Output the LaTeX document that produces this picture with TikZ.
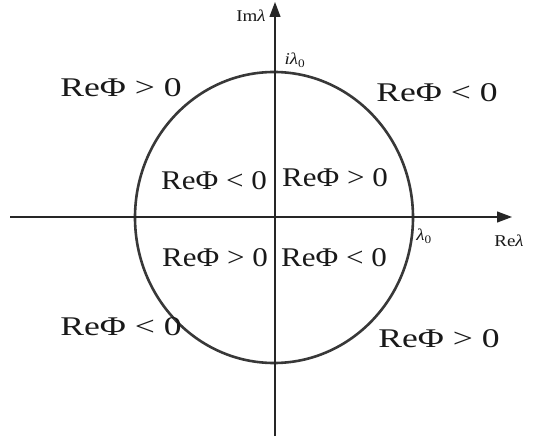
\documentclass[tikz,border=0pt]{standalone}
\usepackage{graphicx}
\usepackage{fontspec}
\setmainfont{Liberation Serif}
\usetikzlibrary{arrows.meta}
\newcommand{\wideA}[1]{\scalebox{1.32}[1]{#1}}
\newcommand{\wideB}[1]{\scalebox{1.15}[1]{#1}}
\newcommand{\wideC}[1]{\scalebox{1.15}[1]{#1}}
\begin{document}
\begin{tikzpicture}[x=1pt,y=-1pt,
  axis/.style={line width=1.2pt,draw=black!85,-{Triangle[width=11pt,length=15pt]}},
  curve/.style={line width=2.6pt,draw=black!78},
  region/.style={font=\fontsize{27}{30}\selectfont,inner sep=0pt,anchor=base,text=black!90},
  small/.style={font=\fontsize{16.5}{18}\selectfont,inner sep=0pt,anchor=base,text=black!90}]
\useasboundingbox (0,0) rectangle (535,443);
\coordinate (xs) at (10,217);
\coordinate (xe) at (512,217);
\coordinate (ys) at (275,436);
\coordinate (ye) at (275,2);
\draw[curve] (274,217.5) ellipse [x radius=139, y radius=145.5];
\draw[axis] (xs) -- (xe);
\draw[axis] (ys) -- (ye);
\node[small] (im) at (251,22) {\wideC{Im\textit{λ}}};
\node[small] (il) at (295,65) {\wideC{\textit{iλ}\textsubscript{0}}};
\node[small] (l0) at (424,241) {\wideC{\textit{λ}\textsubscript{0}}};
\node[small] (re) at (509,247) {\wideC{Re\textit{λ}}};
\node[region] (r1) at (121,97) {\wideA{ReΦ > 0}};
\node[region] (r2) at (437,102) {\wideA{ReΦ < 0}};
\node[region] (r3) at (214,190) {\wideB{ReΦ < 0}};
\node[region] (r4) at (335,187) {\wideB{ReΦ > 0}};
\node[region] (r5) at (215,267) {\wideB{ReΦ > 0}};
\node[region] (r6) at (334,267) {\wideB{ReΦ < 0}};
\node[region] (r7) at (121,335) {\wideA{ReΦ < 0}};
\node[region] (r8) at (439,348) {\wideA{ReΦ > 0}};
\end{tikzpicture}
\end{document}
